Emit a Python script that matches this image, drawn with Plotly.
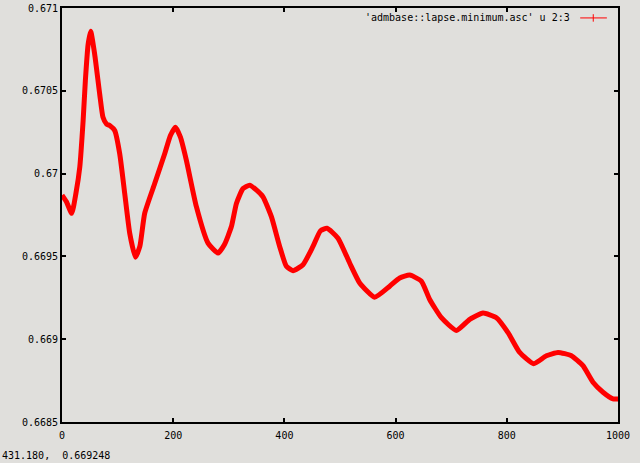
import plotly.graph_objects as go

# time (column 2) and minimum lapse (column 3)
t_vals = [0, 8, 17.5, 25, 32, 38, 42, 47, 51.6, 58.8, 67.8, 73.7, 80, 85.8, 94.8,
          103.8, 112.8, 121.8, 132, 140, 148.7, 166.7, 184.7, 195, 204, 213, 223.7,
          241.7, 262.6, 280.6, 292, 304.7, 313.7, 325.6, 337.6, 350, 361.5, 376.6,
          391.5, 403.6, 415.5, 433.5, 451.4, 465, 476.6, 496.4, 517.4, 535.4, 562.4,
          589.4, 607.4, 625.4, 646.4, 661.3, 682.4, 709.3, 733.3, 757.2, 781.3, 802.2,
          823.2, 848.4, 871.2, 892.1, 916.2, 937, 955, 973, 991, 1003]
lapse_min = [0.66987, 0.66983, 0.66976, 0.66988, 0.67004, 0.67032, 0.67056, 0.67078,
             0.67086, 0.67072, 0.67048, 0.67034, 0.67030, 0.67029, 0.67026, 0.67012,
             0.66988, 0.66964, 0.669495, 0.66956, 0.66976, 0.66994, 0.67012, 0.67023,
             0.67028, 0.67022, 0.67008, 0.66980, 0.66958, 0.66952, 0.66957, 0.66968,
             0.66982, 0.66991, 0.66993, 0.66990, 0.66986, 0.66974, 0.66956, 0.66944,
             0.669414, 0.66945, 0.66956, 0.669655, 0.66967, 0.66961, 0.66946, 0.66934,
             0.669254, 0.66932, 0.66937, 0.669387, 0.66935, 0.66924, 0.66913, 0.669053,
             0.66912, 0.669158, 0.66913, 0.66904, 0.66892, 0.668852, 0.66890, 0.66892,
             0.66890, 0.66884, 0.66874, 0.66868, 0.66864, 0.66864]

x_ticks = [0, 200, 400, 600, 800, 1000]
x_tick_labels = ["0", "200", "400", "600", "800", "1000"]
y_ticks = [0.6685, 0.669, 0.6695, 0.67, 0.6705, 0.671]
y_tick_labels = ["0.6685", "0.669", "0.6695", "0.67", "0.6705", "0.671"]

legend_label = "'admbase::lapse.minimum.asc' u 2:3"
status_text = "431.180,  0.669248"

FONT = "DejaVu Sans Mono"
BG = "#e0dfdc"
RED = "#ff0000"

fig = go.Figure()
fig.add_trace(go.Scatter(
    x=t_vals, y=lapse_min, mode="lines",
    line=dict(color=RED, width=5, shape="spline", smoothing=0.5),
    showlegend=False, cliponaxis=False, hoverinfo="skip",
))

axis_common = dict(
    showline=True, linecolor="black", linewidth=2, mirror="ticks",
    ticks="inside", ticklen=4, tickwidth=2, tickcolor="black",
    showgrid=False, zeroline=False, automargin=False,
    tickfont=dict(family=FONT, size=10, color="black"),
)
fig.update_xaxes(range=[0, 1000], tickvals=x_ticks, ticktext=x_tick_labels,
                 ticklabelstandoff=3, **axis_common)
fig.update_yaxes(range=[0.6685, 0.671], tickvals=y_ticks, ticktext=y_tick_labels, **axis_common)

# legend entry, gnuplot style (text then sample on the right)
fig.add_annotation(xref="paper", yref="paper", x=0.917, y=0.976, text=legend_label,
                   showarrow=False, xanchor="right", yanchor="middle",
                   font=dict(family=FONT, size=10, color="black"))
fig.add_shape(type="line", xref="paper", yref="paper", x0=0.932, x1=0.980, y0=0.976, y1=0.976,
              line=dict(color=RED, width=1))
fig.add_shape(type="line", xref="paper", yref="paper", x0=0.9555, x1=0.9555, y0=0.967, y1=0.985,
              line=dict(color=RED, width=1))

fig.add_annotation(xref="paper", yref="paper", x=-0.111, y=-0.08, text=status_text,
                   showarrow=False, xanchor="left", yanchor="middle",
                   font=dict(family=FONT, size=10, color="black"))

fig.update_layout(
    width=640, height=463,
    margin=dict(l=62, r=22, t=8, b=41, autoexpand=False),
    paper_bgcolor=BG, plot_bgcolor=BG,
    showlegend=False,
)

fig.write_html("out.html", config={"displayModeBar": False},
               post_script="document.body.style.margin='0px';document.body.style.background='%s';" % BG)
